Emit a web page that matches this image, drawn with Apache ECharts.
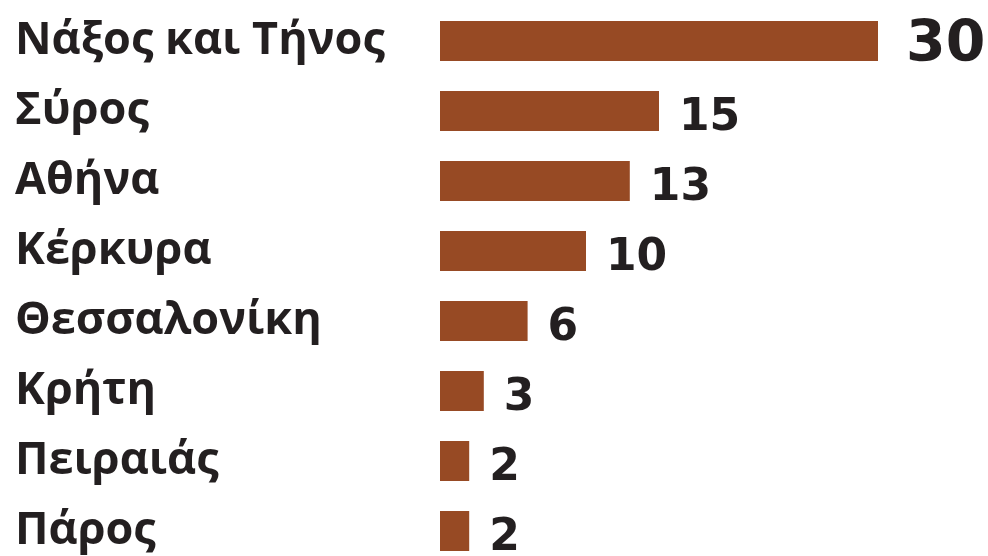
<!DOCTYPE html>
<html lang="el">
<head>
    <meta charset="UTF-8">
    <title>Bar chart</title>
    <script src="https://cdn.jsdelivr.net/npm/echarts@6/dist/echarts.min.js"></script>
    <style>
        html, body { margin: 0; padding: 0; background: #ffffff; overflow: hidden; }
        /* a little taller than the window so the last row can sit at the bottom edge */
        #chart { width: 988px; height: 570px; }
    </style>
</head>
<body>
    <div id="chart"></div>
    <script>
        // data
        const places = ['Νάξος και Τήνος', 'Σύρος', 'Αθήνα', 'Κέρκυρα', 'Θεσσαλονίκη', 'Κρήτη', 'Πειραιάς', 'Πάρος'];
        const counts = [30, 15, 13, 10, 6, 3, 2, 2];

        const barColor = '#974a24';
        const textColor = '#231f20';
        const maxCount = Math.max(...counts);

        const chart = echarts.init(document.getElementById('chart'));

        chart.setOption({
            animation: false,
            grid: { left: 440, width: 438, top: 6, height: 560, containLabel: false },
            xAxis: {
                type: 'value',
                min: 0,
                max: 30,
                show: false
            },
            yAxis: {
                type: 'category',
                data: places,
                inverse: true,
                axisLine: { show: false },
                axisTick: { show: false },
                splitLine: { show: false },
                axisLabel: {
                    align: 'left',
                    margin: 425,
                    color: textColor,
                    fontFamily: 'Open Sans',
                    fontWeight: 'bold',
                    fontSize: 45
                }
            },
            series: [{
                type: 'bar',
                barWidth: 40,
                itemStyle: { color: barColor },
                label: {
                    show: true,
                    position: 'right',
                    distance: 20,
                    offset: [0, 8],
                    color: textColor,
                    fontFamily: 'DejaVu Sans',
                    fontWeight: 'bold',
                    fontSize: 44
                },
                // the biggest value gets a larger label
                data: counts.map(v => v === maxCount
                    ? { value: v, label: { fontSize: 57, distance: 28, offset: [0, 5] } }
                    : v)
            }]
        });
    </script>
</body>
</html>
